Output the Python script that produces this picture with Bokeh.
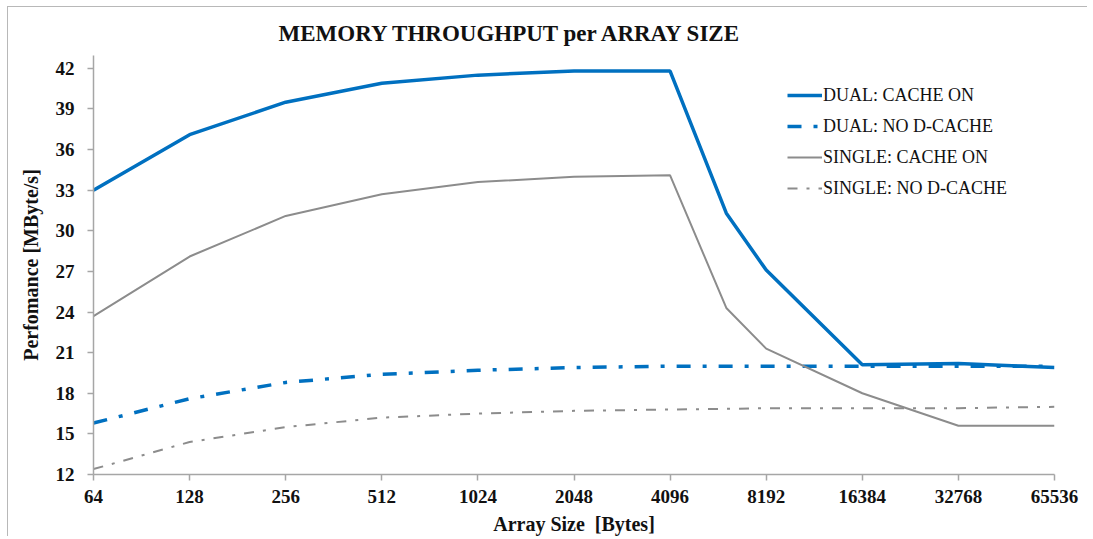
from bokeh.plotting import figure
from bokeh.models import FixedTicker, BasicTickFormatter, Legend, LegendItem, Range1d
from bokeh.embed import file_html
from bokeh.resources import INLINE

# ---- data ----
array_sizes = [64, 128, 256, 512, 1024, 2048, 4096, 6144, 8192, 16384, 32768, 65536]
tick_values = [64, 128, 256, 512, 1024, 2048, 4096, 8192, 16384, 32768, 65536]
y_ticks = [12, 15, 18, 21, 24, 27, 30, 33, 36, 39, 42]

dual_cache_on = [33.0, 37.1, 39.5, 40.9, 41.5, 41.8, 41.8, 31.3, 27.1, 20.1, 20.2, 19.9]
dual_no_dcache = [15.8, 17.6, 18.8, 19.4, 19.7, 19.9, 20.0, 20.0, 20.0, 20.0, 20.0, 20.0]
single_cache_on = [23.7, 28.1, 31.1, 32.7, 33.6, 34.0, 34.1, 24.3, 21.3, 18.0, 15.6, 15.6]
single_no_dcache = [12.4, 14.4, 15.5, 16.2, 16.5, 16.7, 16.8, 16.85, 16.9, 16.9, 16.9, 17.0]

series_labels = ["DUAL: CACHE ON", "DUAL: NO D-CACHE", "SINGLE: CACHE ON", "SINGLE: NO D-CACHE"]

BLUE = "#0070C0"
GRAY = "#8C8C8C"
SERIF = "Liberation Serif"

p = figure(width=1080, height=530, x_axis_type="log",
           x_range=Range1d(64, 65536), y_range=Range1d(12, 42.95),
           output_backend="svg", toolbar_location=None,
           min_border_left=85, min_border_right=34, min_border_top=48, min_border_bottom=61,
           title="MEMORY THROUGHPUT per ARRAY SIZE")
p.styles = {"margin-left": "7px", "margin-top": "6px",
            "border-left": "1px solid #b8b8b8", "border-top": "1px solid #b8b8b8"}

p.title.text_font = SERIF
p.title.text_font_size = "23px"
p.title.text_font_style = "bold"
p.title.align = "left"
p.title.offset = 185
p.title.standoff = 20
p.title.text_color = "#111111"

p.outline_line_color = None
p.xgrid.grid_line_color = None
p.ygrid.grid_line_color = None

for ax in (p.xaxis[0], p.yaxis[0]):
    ax.axis_line_color = "#A6A6A6"
    ax.axis_line_width = 1.5
    ax.major_tick_line_color = "#A6A6A6"
    ax.major_tick_line_width = 1.5
    ax.major_tick_out = 6
    ax.major_tick_in = 0
    ax.minor_tick_line_color = None
    ax.major_label_text_font = SERIF
    ax.major_label_text_font_style = "bold"
    ax.major_label_text_font_size = "19px"
    ax.major_label_text_color = "#111111"
    ax.axis_label_text_font = SERIF
    ax.axis_label_text_font_style = "bold"
    ax.axis_label_text_font_size = "20px"
    ax.axis_label_text_color = "#111111"

p.xaxis.ticker = FixedTicker(ticks=tick_values)
p.xaxis.formatter = BasicTickFormatter(use_scientific=False)
p.xaxis.major_label_standoff = 9
p.xaxis.axis_label = "Array Size \u00a0[Bytes]"
p.xaxis.axis_label_standoff = 7

p.yaxis.ticker = FixedTicker(ticks=y_ticks)
p.yaxis.major_label_standoff = 13
p.yaxis.axis_label = "Perfomance [MByte/s]"
p.yaxis.axis_label_standoff = 11

r1 = p.line(array_sizes, dual_cache_on, line_color=BLUE, line_width=3.5)
r2 = p.line(array_sizes, dual_no_dcache, line_color=BLUE, line_width=3.5, line_dash="14 12 4 12")
r3 = p.line(array_sizes, single_cache_on, line_color=GRAY, line_width=2)
r4 = p.line(array_sizes, single_no_dcache, line_color=GRAY, line_width=2, line_dash="10 9 3 9")

legend = Legend(items=[LegendItem(label=series_labels[0], renderers=[r1]),
                       LegendItem(label=series_labels[1], renderers=[r2]),
                       LegendItem(label=series_labels[2], renderers=[r3]),
                       LegendItem(label=series_labels[3], renderers=[r4])],
                location=(694, 272), padding=0, margin=0, spacing=3,
                glyph_width=35, glyph_height=28, label_height=28, label_standoff=1,
                border_line_color=None, background_fill_alpha=0)
legend.label_text_font = SERIF
legend.label_text_font_size = "18px"
legend.label_text_color = "#111111"
p.add_layout(legend, "center")

open("out.html", "w").write(file_html(p, INLINE))
